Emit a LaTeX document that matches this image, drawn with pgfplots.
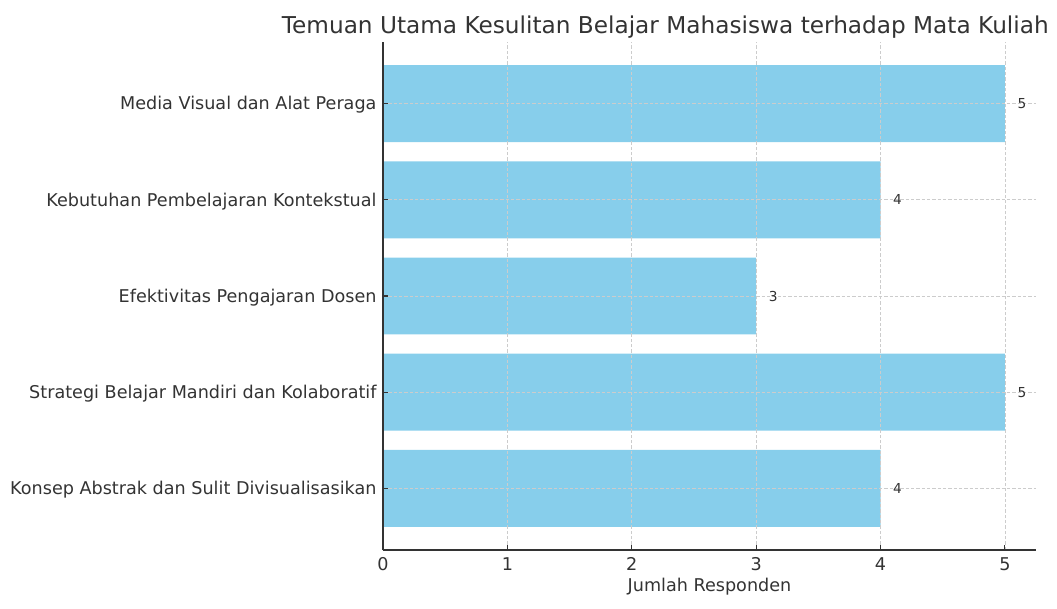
\documentclass[border=0pt]{standalone}
\usepackage{fontspec}
\setmainfont{DejaVu Sans}
\usepackage{pgfplots}
\pgfplotsset{compat=1.18}
\definecolor{barc}{HTML}{87CEEB}
\definecolor{txt}{HTML}{333333}
\definecolor{gridc}{HTML}{CCCCCC}
\begin{document}
\begin{tikzpicture}
\begin{axis}[
  scale only axis, width=489.75pt, height=381pt,
  xbar, bar width=0.8, bar shift=0pt,
  xmin=0, xmax=5.25, ymin=-0.64, ymax=4.64,
  ytick={0,1,2,3,4},
  yticklabels={Konsep Abstrak dan Sulit Divisualisasikan, Strategi Belajar Mandiri dan Kolaboratif, Efektivitas Pengajaran Dosen, Kebutuhan Pembelajaran Kontekstual, Media Visual dan Alat Peraga},
  xtick={0,1,2,3,4,5},
  axis x line*=bottom, axis y line*=left,
  axis line style={-, color=txt, line width=1pt},
  tick align=inside, major tick length=3.75pt,
  tick style={color=txt, line width=0.8pt},
  grid=major,
  major grid style={gridc, dash pattern=on 2.5pt off 1.5pt, line width=0.5pt},
  axis on top,
  ticklabel style={font=\fontsize{13.2}{16}\selectfont, text=txt},
  /pgf/number format/assume math mode=true,
  xticklabel style={inner sep=0pt, anchor=north, yshift=-5.5pt},
  yticklabel style={inner sep=0pt, anchor=base east, xshift=-4.7pt, yshift=-4.8pt},
  xlabel={Jumlah Responden},
  xlabel style={font=\fontsize{13.2}{16}\selectfont, text=txt, at={(axis description cs:0.5,0)}, anchor=base, yshift=-31pt, inner sep=0pt},
  nodes near coords, nodes near coords align=horizontal,
  every node near coord/.append style={font=\fontsize{10.3}{12}\selectfont, text=txt, anchor=base west, inner sep=0pt, xshift=9.33pt, yshift=-3.75pt},
]
\addplot[fill=barc, draw=none] coordinates {(4,0) (5,1) (3,2) (4,3) (5,4)};
\end{axis}
\node[anchor=base west, inner sep=0pt, font=\fontsize{17.4}{20}\selectfont, text=txt] at (-76pt,387.5pt) {Temuan Utama Kesulitan Belajar Mahasiswa terhadap Mata Kuliah};
\pgfresetboundingbox
\path[use as bounding box] (-287.25pt,-43.5pt) rectangle (505.5pt,412.5pt);
\end{tikzpicture}
\end{document}
